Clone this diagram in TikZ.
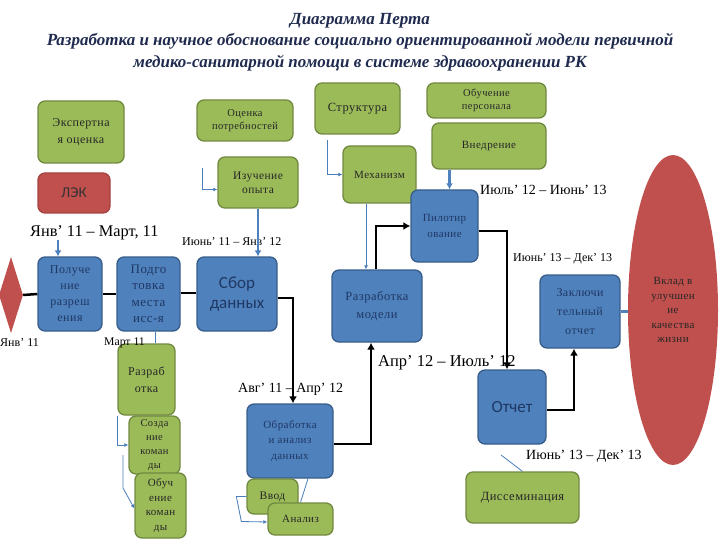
\documentclass[tikz,border=0pt]{standalone}
\usepackage{fontspec}
\setmainfont{Liberation Serif}
\newfontfamily\calfont{Carlito}
\usetikzlibrary{arrows.meta, shapes.geometric}

\definecolor{grfill}{HTML}{9BBB59}
\definecolor{grline}{HTML}{71893F}
\definecolor{blfill}{HTML}{4F81BD}
\definecolor{blline}{HTML}{385D8A}
\definecolor{rdfill}{HTML}{C0504D}
\definecolor{navy}{HTML}{1F2A4E}
\definecolor{txtblue}{HTML}{1F3864}
\definecolor{conblue}{HTML}{4A7EBB}

\tikzset{
  fs/.style 2 args={font=\fontsize{#1}{#2}\selectfont\addfontfeatures{LetterSpace=4}},
  lfs/.style={font=\fontsize{#1}{#1}\selectfont},
  cfs/.style 2 args={font=\calfont\fontsize{#1}{#2}\selectfont},
  sz/.style 2 args={minimum width=#1pt, minimum height=#2pt},
  box/.style={rounded corners=7pt, line width=1.3pt, align=center, inner sep=1pt},
  gbox/.style={box, fill=grfill, draw=grline, text=black!85},
  bbox/.style={box, fill=blfill, draw=blline, text=txtblue},
  lbl/.style={anchor=west, inner sep=0pt, text=black},
  cline/.style={draw=conblue, line width=0.8pt},
  conn/.style={cline, -{Latex[length=4pt,width=4pt]}},
  bfat/.style={draw=blfill, line width=2.5pt, -{Latex[length=6pt,width=7pt]}},
  blk/.style={draw=black, line width=2.5pt},
}

\begin{document}
\begin{tikzpicture}[x=1pt, y=-1pt, >={Latex[length=7pt,width=8pt]}]
\useasboundingbox (0,0) rectangle (720,540);
%%% Title
\node[text=navy, font=\fontsize{17}{21.5}\selectfont\bfseries\itshape, align=center] (title) at (360,42)
  {Диаграмма Перта\\Разработка и научное обоснование социально ориентированной модели первичной\\медико-санитарной помощи в системе здравоохранении РК};

%%% Green boxes top
\node[gbox, sz={86}{62}, fs={12}{17}] (expert) at (81,132) {Экспертна\\я оценка};
\node[gbox, sz={96}{41}, fs={10.5}{13}] (ocenka) at (245,120.5) {Оценка\\потребностей};
\node[gbox, sz={85}{51}, fs={12.5}{15}] (struct) at (357.5,108.5) {Структура};
\node[gbox, sz={119}{35}, fs={10.5}{13}] (obuch) at (486.5,100.5) {Обучение\\персонала};
\node[gbox, sz={114}{46}, fs={11}{13}] (vnedr) at (489,146) {Внедрение};
\node[gbox, sz={80}{51}, fs={11.5}{14}] (izuch) at (258,182.5) {Изучение\\опыта};
\node[gbox, sz={73}{57}, fs={11}{13}] (mehan) at (379.5,174.5) {Механизм};
\node[box, fill=rdfill, draw=rdfill!85!black, sz={72}{40}, cfs={15}{16}, text=black!80] (lek) at (74,193) {ЛЭК};

%%% Blue boxes
\node[bbox, sz={67}{72}, fs={11}{16}] (pilot) at (444.5,226) {Пилотир\\ование};
\node[bbox, sz={64}{74}, fs={12}{16}] (poluch) at (70,294) {Получе\\ние\\разреш\\ения};
\node[bbox, sz={63}{74}, fs={13}{16.5}] (podgot) at (148.5,294) {Подго\\товка\\места\\исс-я};
\node[bbox, sz={80}{74}, cfs={17}{20}] (sbor) at (237,294) {Сбор\\данных};
\node[bbox, sz={90}{72}, fs={12.5}{18}] (razmod) at (377,306) {Разработка\\модели};
\node[bbox, sz={80}{73}, fs={12}{19}] (zakl) at (580,311.5) {Заключи\\тельный\\отчет};
\node[bbox, sz={68}{74}, cfs={17}{20}] (otchet) at (512,407) {Отчет};
\node[bbox, sz={86}{74}, fs={11}{15.5}] (obrab) at (290,441) {Обработка\\и анализ\\данных};

%%% Green boxes bottom
\node[gbox, sz={57}{71}, fs={12}{17}] (razrab) at (146.5,379.5) {Разраб\\отка};
\node[gbox, sz={51}{58}, fs={10.5}{14}] (sozd) at (154.5,445) {Созда\\ние\\коман\\ды};
\node[gbox, sz={51}{65}, fs={11}{14.5}] (obuchk) at (160.5,505.5) {Обуч\\ение\\коман\\ды};
\node[gbox, sz={51}{35}, fs={11.5}{13}] (vvod) at (272.5,496.5) {Ввод};
\node[gbox, sz={65}{32}, fs={11}{13}] (analiz) at (300.5,519) {Анализ};
\node[gbox, sz={113}{51}, fs={12.5}{14}] (dissem) at (522.5,497.5) {Диссеминация};

%%% Start and goal
\node[diamond, fill=rdfill, inner sep=0pt, minimum width=24pt, minimum height=76pt] (start) at (11,295) {};
\node[ellipse, fill=rdfill, inner sep=0pt, minimum width=90pt, minimum height=310pt, align=center, fs={11}{14.5}, text=black!85] (goal) at (673,310) {Вклад в\\улучшен\\ие\\качества\\жизни};

%%% Labels
\node[lbl, lfs=14] (l1) at (480,190) {Июль’ 12 – Июнь’ 13};
\node[lbl, lfs=16.3] (l2) at (30,233) {Янв’ 11 – Март, 11};
\node[lbl, lfs=12] (l3) at (182,242) {Июнь’ 11 – Янв’ 12};
\node[lbl, lfs=12] (l4) at (513,259) {Июнь’ 13 – Дек’ 13};
\node[lbl, lfs=12] (l5) at (0,343) {Янв’ 11};
\node[lbl, lfs=11.7] (l6) at (104,343) {Март 11};
\node[lbl, lfs=16.5] (l7) at (378,363) {Апр’ 12 – Июль’ 12};
\node[lbl, lfs=14] (l8) at (238,389) {Авг’ 11 – Апр’ 12};
\node[lbl, lfs=14] (l9) at (526,456) {Июнь’ 13 – Дек’ 13};

%%% Blue connectors
\coordinate (s1) at (202,168);
\coordinate (s2) at (327,140);
\coordinate (s3) at (123,455);
\coordinate (d1) at (501,455);
\draw[conn] (s1) |- ([yshift=-7pt]izuch.west);
\draw[conn] (s2) |- (mehan.west);
\draw[conn] ([xshift=-13.5pt]mehan.south) -- ([xshift=-11pt]razmod.north);
\draw[bfat] (izuch.south) -- (izuch.south |- sbor.north);
\draw[bfat] ([xshift=5pt]pilot.north |- vnedr.south) -- ([xshift=5pt]pilot.north);
\draw[bfat] ([xshift=-12pt]poluch.north |- l2.south) -- ([xshift=-12pt]poluch.north);
\draw[cline] ([xshift=6.5pt]podgot.south) -- ([xshift=8.5pt]razrab.north);
\draw[draw=blfill, line width=2.5pt] (zakl.east) -- (zakl.east -| goal.west);
\draw[cline] ([xshift=18pt]obrab.south) -- (analiz.north);
\draw[conn] (vvod.west) -- ++(-10,0) -- ++(5,25) -- ([yshift=-3pt]analiz.west);
\draw[conn] (razrab.south west) |- (sozd.west);
\draw[conn] (s3) -- ++(0,33) -- ([yshift=-3pt]obuchk.west);
\draw[cline] (dissem.north) -- (d1);

%%% Black path
\draw[blk] (start.east) -- (poluch.west);
\draw[blk] (poluch.west -| poluch.east) -- (podgot.west);
\draw[blk] ([yshift=1pt]podgot.east) -- ([yshift=1pt]sbor.west);
\draw[blk, ->] ([yshift=-4pt]sbor.east) -| ([xshift=3pt]obrab.north);
\draw[blk, ->] ([yshift=-3pt]obrab.east) -| ([xshift=-6pt]razmod.south);
\draw[blk, ->] ([xshift=-1pt]razmod.north) |- (pilot.west);
\draw[blk, ->] ([yshift=-5pt]pilot.east) -| ([xshift=-5pt]otchet.north);
\draw[blk, ->] ([yshift=-3pt]otchet.east) -| ([xshift=-6pt]zakl.south);
\end{tikzpicture}
\end{document}
